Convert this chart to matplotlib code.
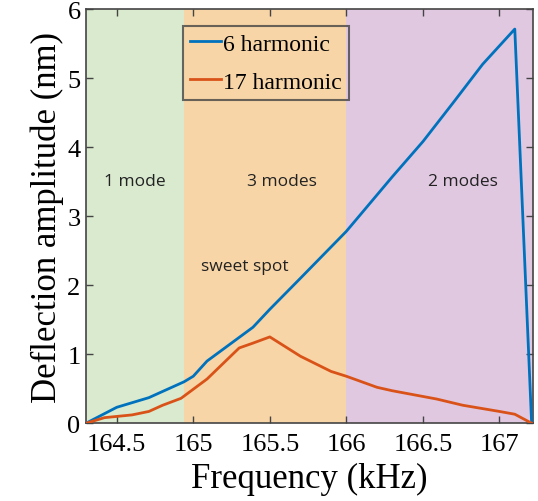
import matplotlib.pyplot as plt

# Frecuencias y amplitudes de deflexión
freq_6 = [164.3, 164.5, 164.71, 164.94, 165.0, 165.09, 165.39, 165.5, 165.7, 166.0,
          166.3, 166.5, 166.7, 166.89, 167.1, 167.21]
amp_6 = [0.0, 0.23, 0.37, 0.6, 0.68, 0.9, 1.39, 1.65, 2.1, 2.78,
         3.57, 4.08, 4.65, 5.2, 5.71, 0.0]

freq_17 = [164.3, 164.42, 164.6, 164.71, 164.8, 164.92, 165.09, 165.3, 165.39, 165.5,
           165.7, 165.9, 166.0, 166.2, 166.3, 166.59, 166.76, 167.0, 167.1, 167.21]
amp_17 = [0.0, 0.08, 0.12, 0.17, 0.26, 0.36, 0.64, 1.09, 1.16, 1.25,
          0.97, 0.75, 0.68, 0.52, 0.47, 0.35, 0.26, 0.17, 0.13, 0.0]

# Zonas de modos
zonas = [(164.3, 164.94, '#d9eacf'), (164.94, 166.0, '#f7d5a7'), (166.0, 167.22, '#e0c8e1')]
etiquetas_zona = [(164.62, '1 mode'), (165.58, '3 modes'), (166.76, '2 modes')]

fig = plt.figure(figsize=(5.38, 5.02), dpi=100)
ax = fig.add_axes([0.160, 0.155, 0.831, 0.825])

for x0, x1, color in zonas:
    ax.axvspan(x0, x1, color=color, lw=0, zorder=0)

ax.plot(freq_6, amp_6, color='#0072bd', lw=2.0, label='6 harmonic', zorder=3)
ax.plot(freq_17, amp_17, color='#d95319', lw=2.0, label='17 harmonic', zorder=3)

for x, texto in etiquetas_zona:
    ax.text(x, 3.51, texto, ha='center', va='center', fontsize=12.5,
            family='Open Sans', color='#222222')
ax.text(165.335, 2.28, 'sweet spot', ha='center', va='center', fontsize=12.5,
        family='Open Sans', color='#222222')

ax.set_xlim(164.3, 167.22)
ax.set_ylim(0, 6)
ax.set_xticks([164.5, 165, 165.5, 166, 166.5, 167])
ax.set_xticklabels(['164.5', '165', '165.5', '166', '166.5', '167'])
ax.set_yticks(range(7))

fuente = 'Liberation Serif'
ax.set_xlabel('Frequency (kHz)', fontsize=25, family=fuente, labelpad=5)
ax.set_ylabel('Deflection amplitude (nm)', fontsize=25, family=fuente, labelpad=2)
ax.tick_params(direction='in', top=True, right=True, length=5, width=1,
               color='#444444', labelsize=19)
ax.tick_params(axis='x', pad=7)
ax.tick_params(axis='y', pad=4)
for lbl in ax.get_xticklabels() + ax.get_yticklabels():
    lbl.set_family(fuente)
for s in ax.spines.values():
    s.set_color('#444444')
    s.set_linewidth(1.2)

leg = ax.legend(loc='upper left', bbox_to_anchor=(0.217, 0.959), prop={'family': fuente, 'size': 17},
                frameon=True, fancybox=False, handlelength=1.3, handletextpad=0.1,
                borderpad=0.3, labelspacing=0.7, borderaxespad=0)
leg.get_frame().set_edgecolor('#444444')
leg.get_frame().set_linewidth(1.5)
leg.get_frame().set_facecolor('none')

fig.savefig('out.png', dpi=100)
